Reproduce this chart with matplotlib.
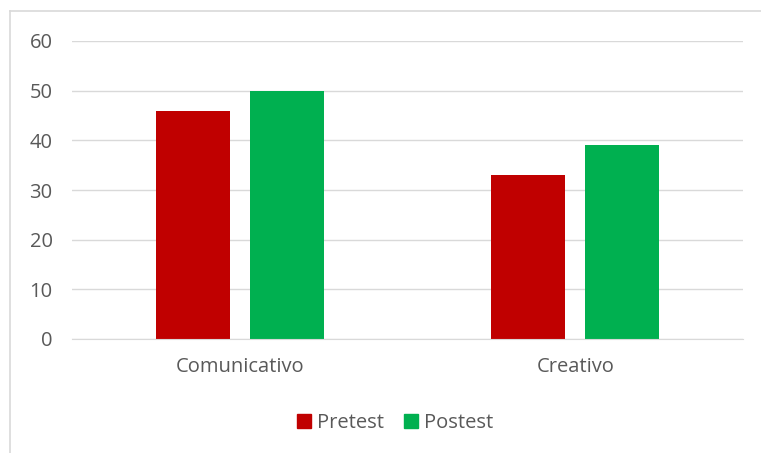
import matplotlib
matplotlib.use("Agg")
import matplotlib.pyplot as plt
from matplotlib.lines import Line2D
import numpy as np

categories = ["Comunicativo", "Creativo"]
series_names = ["Pretest", "Postest"]
pretest = [46, 33]
postest = [50, 39]
colors = ["#C00000", "#00B050"]
yticks = [0, 10, 20, 30, 40, 50, 60]

plt.rcParams['font.family'] = ['Open Sans', 'DejaVu Sans']
text_color = "#595959"
grid_color = "#D9D9D9"

fig = plt.figure(figsize=(7.61, 4.53), dpi=100)
ax = fig.add_axes([72 / 761, 1 - 339 / 453, 671 / 761, 298 / 453])

x = np.arange(len(categories))
w = 0.22
gap = 0.06
ax.bar(x - (w + gap) / 2, pretest, w, color=colors[0], zorder=3)
ax.bar(x + (w + gap) / 2, postest, w, color=colors[1], zorder=3)

ax.set_xlim(-0.5, len(categories) - 0.5)
ax.set_ylim(0, 60)
ax.set_yticks(yticks)
ax.set_xticks(x)
ax.set_xticklabels(categories)
ax.tick_params(axis='both', length=0, labelsize=14.5, colors=text_color)
ax.tick_params(axis='y', pad=14)
ax.tick_params(axis='x', pad=13)
ax.grid(axis='y', color=grid_color, linewidth=1, zorder=0)
for s in ["top", "right", "left"]:
    ax.spines[s].set_visible(False)
ax.spines["bottom"].set_color(grid_color)
ax.spines["bottom"].set_zorder(4)

# chart frame (top and left edges visible)
fig.add_artist(Line2D([10 / 761, 1], [1 - 11 / 453, 1 - 11 / 453], color=grid_color, lw=1.2))
fig.add_artist(Line2D([10 / 761, 10 / 761], [0, 1 - 11 / 453], color=grid_color, lw=1.2))

handles = [plt.Rectangle((0, 0), 1, 1, color=c) for c in colors]
fig.legend(handles, series_names, loc="center", bbox_to_anchor=(395 / 761, 1 - 423 / 453),
           ncol=2, frameon=False, fontsize=14.5, labelcolor=text_color,
           handlelength=0.7, handleheight=0.7, handletextpad=0.3, columnspacing=1.0)

fig.savefig("out.png", dpi=100)
